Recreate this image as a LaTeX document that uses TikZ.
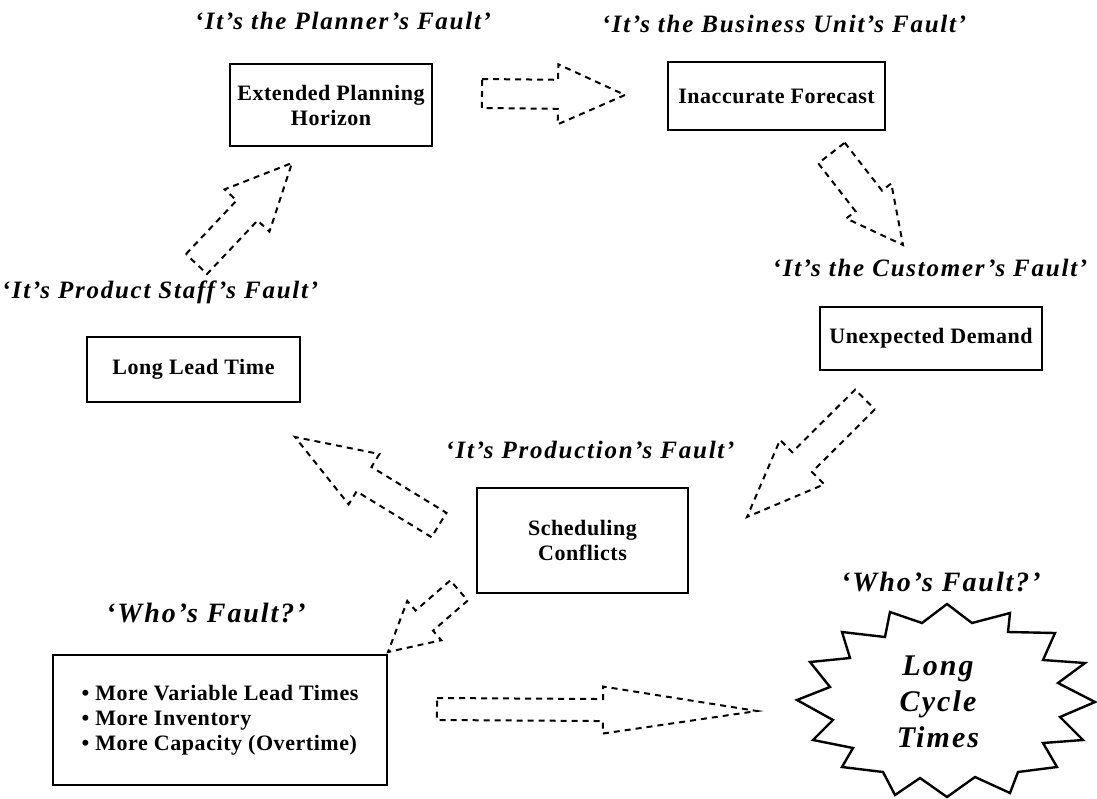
\documentclass[tikz,border=0pt]{standalone}
\usepackage{fontspec}
\setmainfont{Liberation Serif}
\newfontfamily\titlefont[LetterSpace=7]{Liberation Serif}
\newfontfamily\boxfont[LetterSpace=2.5]{Liberation Serif}
\usetikzlibrary{calc}

% hollow dashed block arrow: tail, tip, shaft half width, head half width, head length
\newcommand\blockarrow[5]{%
  \coordinate (hb) at ($(#2)!#5!(#1)$);
  \draw[flow] ($(#1)!#3!90:(#2)$) -- ($(hb)!#3!90:(#2)$) -- ($(hb)!#4!90:(#2)$)
    -- (#2) -- ($(hb)!#4!-90:(#2)$) -- ($(hb)!#3!-90:(#2)$) -- ($(#1)!#3!-90:(#2)$) -- cycle;
}

\tikzset{
  faulttitle/.style={font=\titlefont\fontsize{25}{28}\selectfont\bfseries\itshape, inner sep=0pt},
  whotitle/.style={font=\titlefont\fontsize{28}{32}\selectfont\bfseries\itshape, inner sep=0pt},
  causebox/.style={draw, line width=2.6pt, font=\boxfont\fontsize{22}{25}\selectfont\bfseries,
    align=center, inner sep=0pt},
  flow/.style={draw, line width=2pt, dash pattern=on 6pt off 5pt, line join=miter},
  burst/.style={draw, line width=2.4pt, line join=miter},
}

\begin{document}
\begin{tikzpicture}[x=1pt, y=-1pt]
\useasboundingbox[fill=white] (0,0) rectangle (1097,798);

% fault headings
\node[faulttitle] (t1) at (343,21) {‘It’s the Planner’s Fault’};
\node[faulttitle] (t2) at (784,24) {‘It’s the Business Unit’s Fault’};
\node[faulttitle] (t3) at (930,268) {‘It’s the Customer’s Fault’};
\node[faulttitle] (t4) at (160,292) {‘It’s Product Staff’s Fault’};
\node[faulttitle] (t5) at (590,450) {‘It’s Production’s Fault’};
\node[whotitle] (t6) at (206,613) {‘Who’s Fault?’};
\node[whotitle] (t7) at (941,582) {‘Who’s Fault?’};

% cause boxes
\node[causebox, minimum width=202pt, minimum height=82pt] (plan) at (331,105)
  {Extended Planning\\Horizon};
\node[causebox, minimum width=217pt, minimum height=68pt] (fore) at (776.5,96)
  {Inaccurate Forecast};
\node[causebox, minimum width=222pt, minimum height=63pt] (dem) at (931,338.5)
  {Unexpected Demand};
\node[causebox, minimum width=213pt, minimum height=65pt] (llt) at (193.5,369.5)
  {Long Lead Time};
\node[causebox, minimum width=211pt, minimum height=105pt] (sched) at (582.5,540.5)
  {Scheduling\\Conflicts};
\node[causebox, minimum width=334pt, minimum height=130pt, align=left] (res) at (220,720)
  {\textbullet{} More Variable Lead Times\\\textbullet{} More Inventory\\\textbullet{} More Capacity (Overtime)};

% starburst outcome
\draw[burst] (947,604) -- (972,623) -- (1010,613) -- (1008,632) -- (1055,633) -- (1043,660)
  -- (1085,663) -- (1058,683) -- (1095,702) -- (1060,717) -- (1083,740) -- (1043,743)
  -- (1057,767) -- (1018,772) -- (1010,793) -- (975,777) -- (947,797) -- (920,778)
  -- (895,795) -- (883,772) -- (842,767) -- (853,748) -- (813,740) -- (833,720)
  -- (797,700) -- (830,687) -- (810,662) -- (850,658) -- (842,632) -- (885,637)
  -- (890,612) -- (922,623) -- cycle;
\node[font=\titlefont\fontsize{30}{36}\selectfont\bfseries\itshape, align=center, inner sep=0pt]
  (lct) at (938,702) {Long\\Cycle\\Times};

% arrow end points
\coordinate (a1s) at (482,93.5);  \coordinate (a1e) at (625,95);
\coordinate (a2s) at (831.5,153); \coordinate (a2e) at (903,245);
\coordinate (a3s) at (865,399.5); \coordinate (a3e) at (747,517);
\coordinate (a4s) at (439,525);   \coordinate (a4e) at (295,437);
\coordinate (a5s) at (459,590.5); \coordinate (a5e) at (388,652);
\coordinate (a6s) at (196.5,264); \coordinate (a6e) at (292,163);
\coordinate (a7s) at (437,709);   \coordinate (a7e) at (757,711);

% the blame cycle and its outcome
\blockarrow{a1s}{a1e}{14.5pt}{30pt}{67pt}
\blockarrow{a2s}{a2e}{16.8pt}{28.5pt}{55.8pt}
\blockarrow{a3s}{a3e}{14pt}{31.3pt}{77.8pt}
\blockarrow{a4s}{a4e}{14.3pt}{29.5pt}{80.9pt}
\blockarrow{a5s}{a5e}{13.3pt}{26pt}{48pt}
\blockarrow{a6s}{a6e}{14.5pt}{30.8pt}{65.4pt}
\blockarrow{a7s}{a7e}{11pt}{23.5pt}{154pt}
\end{tikzpicture}
\end{document}
